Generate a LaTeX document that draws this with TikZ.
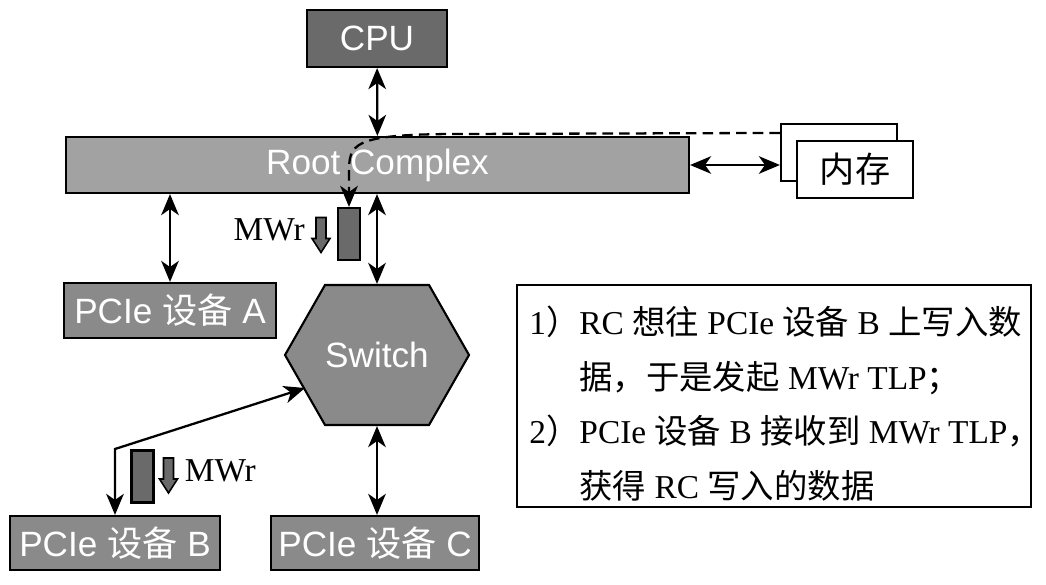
\documentclass[tikz,border=0pt]{standalone}
\usepackage{fontspec}
\setmainfont{Liberation Serif}
\setsansfont{Liberation Sans}
\newfontfamily\zhfont{Noto Sans CJK SC}
\usepackage{tikz}
\usetikzlibrary{arrows.meta,positioning,calc}
\tikzset{>={Stealth[length=12pt,width=10pt,inset=3.5pt]}}
\newcommand{\zh}[1]{{\zhfont #1}}
\definecolor{darkbox}{HTML}{6A6A6A}
\definecolor{midbox}{HTML}{8A8A8A}
\definecolor{lightbox}{HTML}{A2A2A2}

\begin{document}
\begin{tikzpicture}[box/.style={draw=black, line width=1.2pt, fill=midbox, text=white, inner sep=0pt, font=\sffamily\fontsize{20}{24}\selectfont},
	link/.style={<->, line width=1.3pt},
	tlp/.style={draw=black, line width=1.2pt, fill=darkbox, minimum width=0.44cm, minimum height=1.04cm, inner sep=0pt},
	blockarrow/.style={draw=black, line width=0.9pt, fill=darkbox},
	lbl/.style={font=\fontsize{19}{23}\selectfont, inner sep=0pt}]
		\useasboundingbox (0,0) rectangle (20.92,11.68);
		\node[box, fill=darkbox, minimum width=2.8cm, minimum height=1.14cm] (cpu) at (7.54,10.91) {CPU};
		\node[box, fill=lightbox, minimum width=12.46cm, minimum height=1.12cm] (rc) at (7.55,8.38) {Root Complex};
		\node[box, fill=white, text=black, minimum width=2.32cm, minimum height=1.14cm] (mb) at (16.78,8.63) {};
		\node[box, fill=white, text=black, minimum width=2.32cm, minimum height=1.14cm] (mem) at (17.1,8.29) {\zh{内存}};
		\node[box, minimum width=4.24cm, minimum height=1.1cm] (pa) at (3.4,5.47) {PCIe \zh{设备} A};
		\node[box, minimum width=4.2cm, minimum height=1.08cm] (pb) at (2.3,0.82) {PCIe \zh{设备} B};
		\node[box, minimum width=4.16cm, minimum height=1.08cm] (pc) at (7.5,0.82) {PCIe \zh{设备} C};
		% switch hexagon
		\draw[line width=1.2pt, fill=midbox] (5.7,4.58) -- (6.5,5.98) -- (8.58,5.98) -- (9.38,4.58) -- (8.58,3.18) -- (6.5,3.18) -- cycle;
		\node[box, draw=none, fill=none, minimum width=3.68cm, minimum height=2.8cm] (sw) at (7.54,4.58) {Switch};
		\coordinate (swin) at (6.1,3.92);
		\coordinate (bend) at (2.3,2.7);
		% TLP packets
		\node[tlp] (mw1) at (6.98,7.0) {};
		\coordinate (da1) at (6.42,7.33);
		\draw[blockarrow] (da1) ++(-0.1,0) -- ++(0,-0.42) -- ++(-0.08,0) -- ++(0.18,-0.28) -- ++(0.18,0.28) -- ++(-0.08,0) -- ++(0,0.42) -- cycle;
		\node[lbl, left=0.32cm of da1, anchor=north east, yshift=-0.02cm] (t1) {MWr};
		\node[tlp] (mw2) at (2.85,2.15) {};
		\coordinate (da2) at (3.37,2.52);
		\draw[blockarrow] (da2) ++(-0.1,0) -- ++(0,-0.42) -- ++(-0.08,0) -- ++(0.18,-0.28) -- ++(0.18,0.28) -- ++(-0.08,0) -- ++(0,0.42) -- cycle;
		\node[lbl, right=0.32cm of da2, anchor=north west, yshift=-0.02cm] (t2) {MWr};
		% links
		\draw[link] (cpu) -- (rc);
		\draw[link] (rc.south -| sw) -- (sw.north);
		\draw[link] (pa.north |- rc.south) -- (pa.north);
		\draw[link] (rc.east) -- (rc.east -| mb.west);
		\draw[link] (sw.south) -- (pc.north -| sw);
		\draw[link] (pb.north) -- (bend) -- (swin);
		\draw[->, line width=1.3pt, dash pattern=on 6pt off 3.5pt] ($(mb.north west)+(0,-0.2)$) -- (9.2,9.0) .. controls (7.0,9.0) and (6.98,8.8) .. (6.98,8.2) -- (mw1.north);
		% note
		\node[draw=black, line width=1.2pt, fill=white, minimum width=10.28cm, minimum height=4.44cm, anchor=north west] (note) at (10.32,6.0) {};
		\node[lbl, anchor=north west, align=left, font=\fontsize{19}{31}\selectfont] (txt) at (10.58,5.56) {1\zh{）}RC \zh{想往} PCIe \zh{设备} B \zh{上写入数}\\
			\hphantom{1\zh{）}}\zh{据，于是发起} MWr TLP\zh{；}\\
			2\zh{）}PCIe \zh{设备} B \zh{接收到} MWr TLP\zh{，}\\
			\hphantom{2\zh{）}}\zh{获得} RC \zh{写入的数据}};
	\end{tikzpicture}
\end{document}
